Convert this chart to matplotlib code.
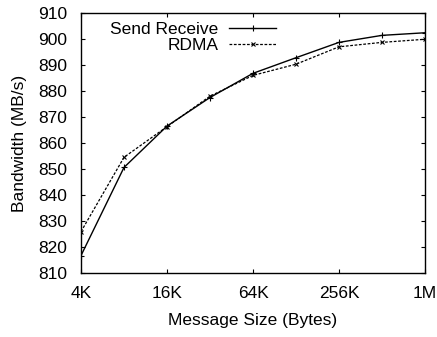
import matplotlib
matplotlib.use('Agg')
import matplotlib.pyplot as plt

plt.rcParams['font.family'] = ['Liberation Sans', 'DejaVu Sans']
plt.rcParams['font.size'] = 12.5

# Mida del missatge (KB) i amplada de banda mesurada (MB/s)
mida_kb = [4, 8, 16, 32, 64, 128, 256, 512, 1024]
send_receive = [816.7, 850.6, 866.5, 877.5, 886.8, 892.8, 898.7, 901.4, 902.4]
rdma = [825.9, 854.5, 866.3, 878.0, 886.0, 890.3, 897.0, 898.7, 899.9]

ticks_x = [4, 16, 64, 256, 1024]
etiquetes_x = ['4K', '16K', '64K', '256K', '1M']
ticks_y = list(range(810, 911, 10))

fig = plt.figure(figsize=(4.37, 3.37), dpi=100)
ax = fig.add_axes([81 / 437, 1 - 273 / 337, 344 / 437, 260 / 337])

ax.plot(mida_kb, send_receive, color='black', lw=1.0, marker='+',
        markersize=4.5, markeredgewidth=0.8, label='Send Receive')
ax.plot(mida_kb, rdma, color='black', lw=0.9, linestyle=(0, (2.2, 1.3)),
        marker='x', markersize=3.5, markeredgewidth=0.8, label='RDMA')

ax.set_xscale('log', base=2)
ax.set_xlim(4, 1024)
ax.set_ylim(810, 910)
ax.set_xticks(ticks_x)
ax.set_xticklabels(etiquetes_x)
ax.set_yticks(ticks_y)
ax.minorticks_off()
ax.tick_params(direction='in', length=3, width=0.8, top=True, right=True)
ax.tick_params(axis='x', pad=9)
ax.tick_params(axis='y', pad=10)
for s in ax.spines.values():
    s.set_linewidth(1.0)

ax.set_xlabel('Message Size (Bytes)', labelpad=9)
ax.set_ylabel('Bandwidth (MB/s)', labelpad=8)

ax.legend(loc='upper right', bbox_to_anchor=(276 / 437, 1 - 22 / 337),
          bbox_transform=fig.transFigure, frameon=False, markerfirst=False,
          borderpad=0, borderaxespad=0, handlelength=2.7, handletextpad=0.6,
          labelspacing=0.05)

fig.savefig('out.png', dpi=100)
